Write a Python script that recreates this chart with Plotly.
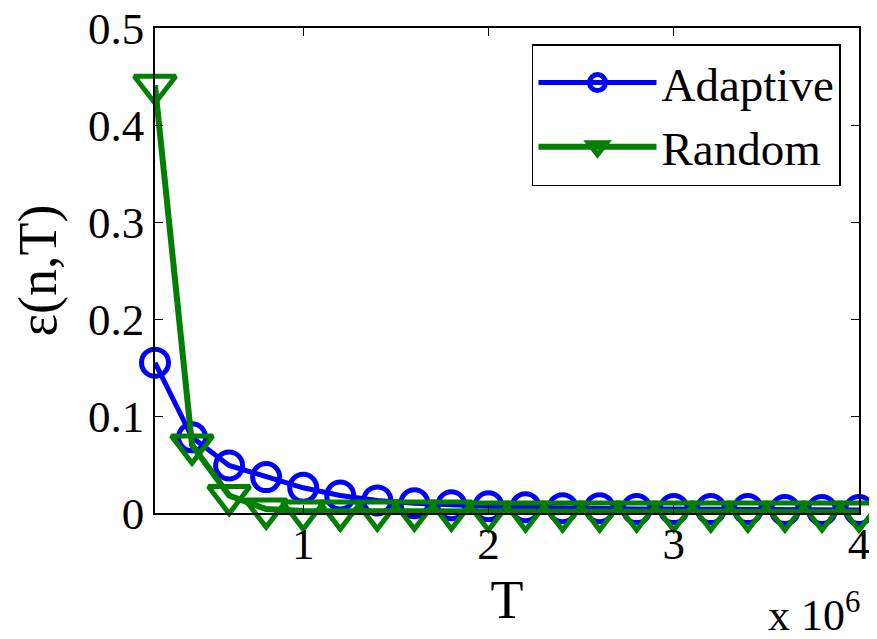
import plotly.graph_objects as go

# Data
T_values = [0.2e6, 0.4e6, 0.6e6, 0.8e6, 1.0e6, 1.2e6, 1.4e6, 1.6e6, 1.8e6, 2.0e6,
            2.2e6, 2.4e6, 2.6e6, 2.8e6, 3.0e6, 3.2e6, 3.4e6, 3.6e6, 3.8e6, 4.0e6]
adaptive = [0.155, 0.078, 0.049, 0.037, 0.026, 0.018, 0.013, 0.010, 0.008, 0.007,
            0.006, 0.005, 0.005, 0.004, 0.004, 0.004, 0.004, 0.003, 0.003, 0.003]
random_ = [0.441, 0.070, 0.018, 0.004, 0.002, 0.002, 0.002, 0.002, 0.002, 0.001,
           0.001, 0.001, 0.001, 0.001, 0.001, 0.001, 0.001, 0.001, 0.001, 0.001]
x_tickvals = [1e6, 2e6, 3e6, 4e6]
x_ticktext = ["1", "2", "3", "4"]
y_tickvals = [0, 0.1, 0.2, 0.3, 0.4, 0.5]
y_ticktext = ["0", "0.1", "0.2", "0.3", "0.4", "0.5"]

FONT = "Liberation Serif, Times New Roman, serif"
BLUE = "#0000FF"
GREEN = "#007F00"

fig = go.Figure()
fig.add_trace(go.Scatter(
    x=T_values, y=adaptive, name="Adaptive", mode="lines+markers",
    line=dict(color=BLUE, width=5),
    marker=dict(symbol="circle-open", size=27, color=BLUE, line=dict(width=5, color=BLUE)),
    cliponaxis=False,
))
fig.add_trace(go.Scatter(
    x=T_values, y=random_, name="Random", mode="lines+markers",
    line=dict(color=GREEN, width=6),
    marker=dict(symbol="triangle-down-open", size=36, color=GREEN, line=dict(width=5, color=GREEN)),
    cliponaxis=False,
))

# page has an 8px body margin; figure sized to fit the 877x639 viewport
fig.update_layout(
    width=869, height=631,
    margin=dict(l=147, r=18, t=20, b=126, autoexpand=False),
    paper_bgcolor="white", plot_bgcolor="white",
    font=dict(family=FONT, size=45, color="black"),
    showlegend=True,
    legend=dict(x=0.5355, y=0.967, xanchor="left", yanchor="top",
                bgcolor="white", bordercolor="black", borderwidth=1.5,
                font=dict(family=FONT, size=47), itemsizing="trace", itemwidth=118),
    xaxis=dict(range=[0.2e6, 4.0e6], tickvals=x_tickvals, ticktext=x_ticktext,
               showgrid=False, zeroline=False, showline=True, linecolor="black", linewidth=1.5,
               mirror="ticks", ticks="inside", ticklen=8, tickcolor="black",
               ticklabelstandoff=-10, ticklabeloverflow="allow",
               title=dict(text="T", standoff=12), tickfont=dict(size=45)),
    yaxis=dict(range=[0, 0.50001], tickvals=y_tickvals, ticktext=y_ticktext,
               showgrid=False, zeroline=False, showline=True, linecolor="black", linewidth=1.5,
               mirror="ticks", ticks="inside", ticklen=8, tickcolor="black",
               ticklabeloverflow="allow",
               title=dict(text="ε(n,T)", standoff=18), tickfont=dict(size=45)),
    annotations=[dict(text="x 10<sup>6</sup>", xref="paper", yref="paper",
                      x=1.004, y=-0.205, xanchor="right", yanchor="middle",
                      showarrow=False, font=dict(family=FONT, size=44))],
)

fig.write_html("out.html")
